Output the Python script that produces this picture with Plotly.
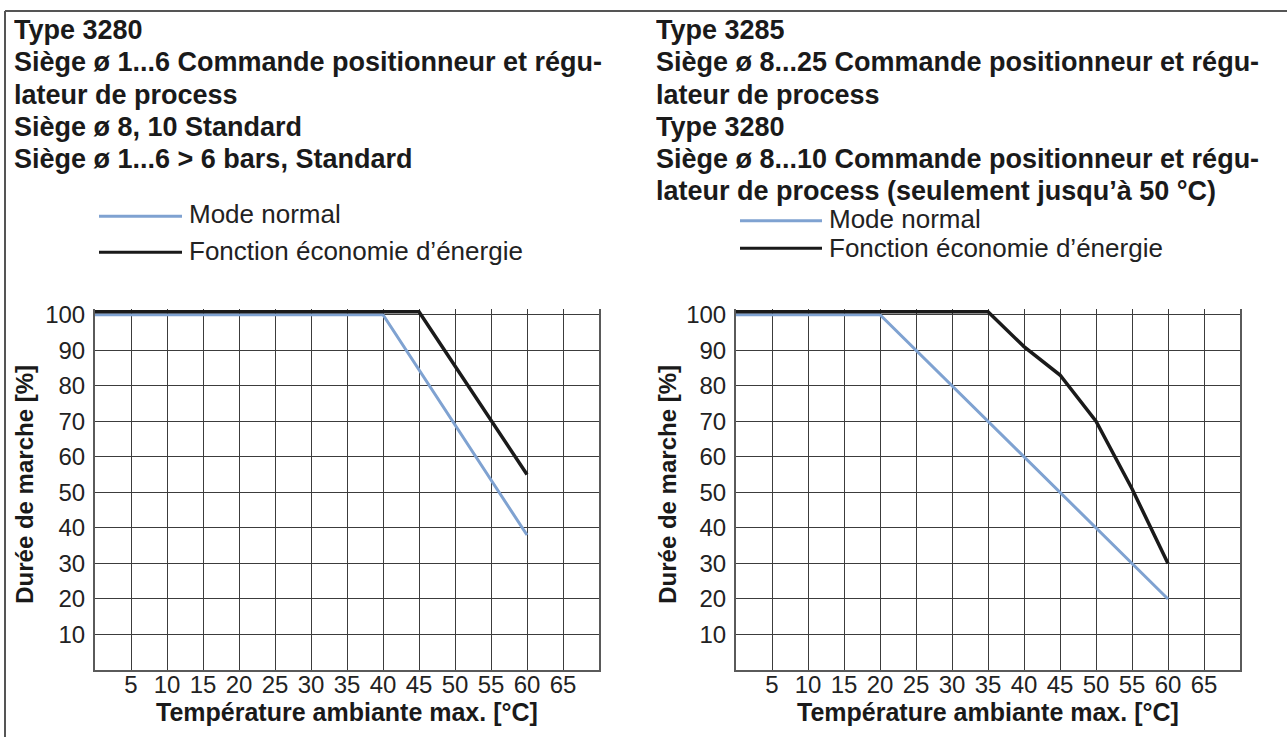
import plotly.graph_objects as go

W, H = 1287, 737

# ---- data ----
left_normal_x = [0, 40, 60]
left_normal_y = [100, 100, 38]
left_eco_x = [0, 45, 60]
left_eco_y = [100.8, 100.8, 55]

right_normal_x = [0, 20, 60]
right_normal_y = [100, 100, 20]
right_eco_x = [0, 35, 40, 45, 50, 55, 60]
right_eco_y = [100.8, 100.8, 91, 83, 70, 51, 30]

x_ticks = [5, 10, 15, 20, 25, 30, 35, 40, 45, 50, 55, 60, 65]
y_ticks = [10, 20, 30, 40, 50, 60, 70, 80, 90, 100]

left_title = ["Type 3280",
              "Siège ø 1...6 Commande positionneur et régu-",
              "lateur de process",
              "Siège ø 8, 10 Standard",
              "Siège ø 1...6 > 6 bars, Standard"]
right_title = ["Type 3285",
               "Siège ø 8...25 Commande positionneur et régu-",
               "lateur de process",
               "Type 3280",
               "Siège ø 8...10 Commande positionneur et régu-",
               "lateur de process (seulement jusqu’à 50 °C)"]
legend_labels = ["Mode normal", "Fonction économie d’énergie"]
y_title = "Durée de marche [%]"
x_title = "Température ambiante max. [°C]"

BLUE = "#7fa2d1"
BLACK = "#1a1a1a"
GRID = "#3c3c3c"
FONT = "Liberation Sans"

def px(x):
    return x / W

def py(y):
    return 1 - y / H

Y0, Y100 = 669.3, 310.0
ppu = (Y0 - Y100) / 100.0
YMAX = 101.6
ytop = Y0 - YMAX * ppu

fig = go.Figure()
fig.add_trace(go.Scatter(x=left_normal_x, y=left_normal_y, mode="lines",
                         line=dict(color=BLUE, width=3), xaxis="x", yaxis="y", showlegend=False))
fig.add_trace(go.Scatter(x=left_eco_x, y=left_eco_y, mode="lines",
                         line=dict(color=BLACK, width=3.5), xaxis="x", yaxis="y", showlegend=False))
fig.add_trace(go.Scatter(x=right_normal_x, y=right_normal_y, mode="lines",
                         line=dict(color=BLUE, width=3), xaxis="x2", yaxis="y2", showlegend=False))
fig.add_trace(go.Scatter(x=right_eco_x, y=right_eco_y, mode="lines",
                         line=dict(color=BLACK, width=3.5), xaxis="x2", yaxis="y2", showlegend=False))

def xaxis_cfg(domain, anchor):
    return dict(domain=domain, anchor=anchor, range=[0, 70], tickmode="array",
                tickvals=x_ticks, showgrid=True, gridcolor=GRID, gridwidth=1.2,
                zeroline=False, showline=True, linecolor="#5a5a5a", linewidth=2,
                ticks="", ticklabelstandoff=-8,
                tickfont=dict(family=FONT, size=24, color="#222"), fixedrange=True)

def yaxis_cfg(anchor):
    return dict(domain=[py(Y0), py(ytop)], anchor=anchor, range=[0, YMAX], tickmode="array",
                tickvals=y_ticks, showgrid=True, gridcolor=GRID, gridwidth=1.2,
                zeroline=False, showline=True, linecolor="#5a5a5a", linewidth=2, mirror=True,
                ticks="", ticklabelstandoff=3,
                tickfont=dict(family=FONT, size=24, color="#222"), fixedrange=True)

fig.update_layout(
    width=W, height=H, margin=dict(l=0, r=0, t=0, b=0),
    paper_bgcolor="white", plot_bgcolor="white",
    xaxis=xaxis_cfg([px(95), px(599)], "y"),
    yaxis=yaxis_cfg("x"),
    xaxis2=xaxis_cfg([px(736), px(1240)], "y2"),
    yaxis2=yaxis_cfg("x2"),
)

ann = []
shapes = []
# titles
for i, t in enumerate(left_title):
    ann.append(dict(x=px(13), y=py(22 + 32.5 * i), xref="paper", yref="paper", text=t,
                    showarrow=False, xanchor="left", yanchor="middle", height=31, borderpad=0,
                    font=dict(family=FONT, size=27, color="#1a1a1a", weight="bold")))
for i, t in enumerate(right_title):
    ann.append(dict(x=px(655), y=py(22 + 32.5 * i), xref="paper", yref="paper", text=t,
                    showarrow=False, xanchor="left", yanchor="middle", height=31, borderpad=0,
                    font=dict(family=FONT, size=27, color="#1a1a1a", weight="bold")))

# legends
def legend(x0, x1, xt, ys, yt):
    for col, yl, ytxt, lab in zip([BLUE, BLACK], ys, yt, legend_labels):
        shapes.append(dict(type="line", xref="paper", yref="paper", x0=px(x0), x1=px(x1),
                           y0=py(yl), y1=py(yl), line=dict(color=col, width=3)))
        ann.append(dict(x=px(xt), y=py(ytxt), xref="paper", yref="paper", text=lab,
                        showarrow=False, xanchor="left", yanchor="middle", height=29, borderpad=0,
                        font=dict(family=FONT, size=26, color="#222")))

legend(99, 182, 188, [210.5, 247], [208, 245])
legend(740, 822, 828, [215, 243], [213, 242])

# axis titles
for xc in [25, 668]:
    ann.append(dict(x=px(xc), y=py(482), xref="paper", yref="paper", text=y_title,
                    showarrow=False, textangle=-90, xanchor="center", yanchor="middle",
                    font=dict(family=FONT, size=24, color="#1a1a1a", weight="bold")))
for xc in [347, 988]:
    ann.append(dict(x=px(xc), y=py(712), xref="paper", yref="paper", text=x_title,
                    showarrow=False, xanchor="center", yanchor="middle",
                    font=dict(family=FONT, size=25, color="#1a1a1a", weight="bold")))

# frame
shapes.append(dict(type="line", xref="paper", yref="paper", x0=px(5), x1=px(5),
                   y0=0, y1=py(3), line=dict(color="#555", width=2)))
shapes.append(dict(type="line", xref="paper", yref="paper", x0=px(5), x1=1,
                   y0=py(3), y1=py(3), line=dict(color="#555", width=2)))

fig.update_layout(annotations=ann, shapes=shapes)
fig.write_html("out.html", config={"displayModeBar": False},
               post_script="document.body.style.margin='0';document.body.style.overflow='hidden';")
